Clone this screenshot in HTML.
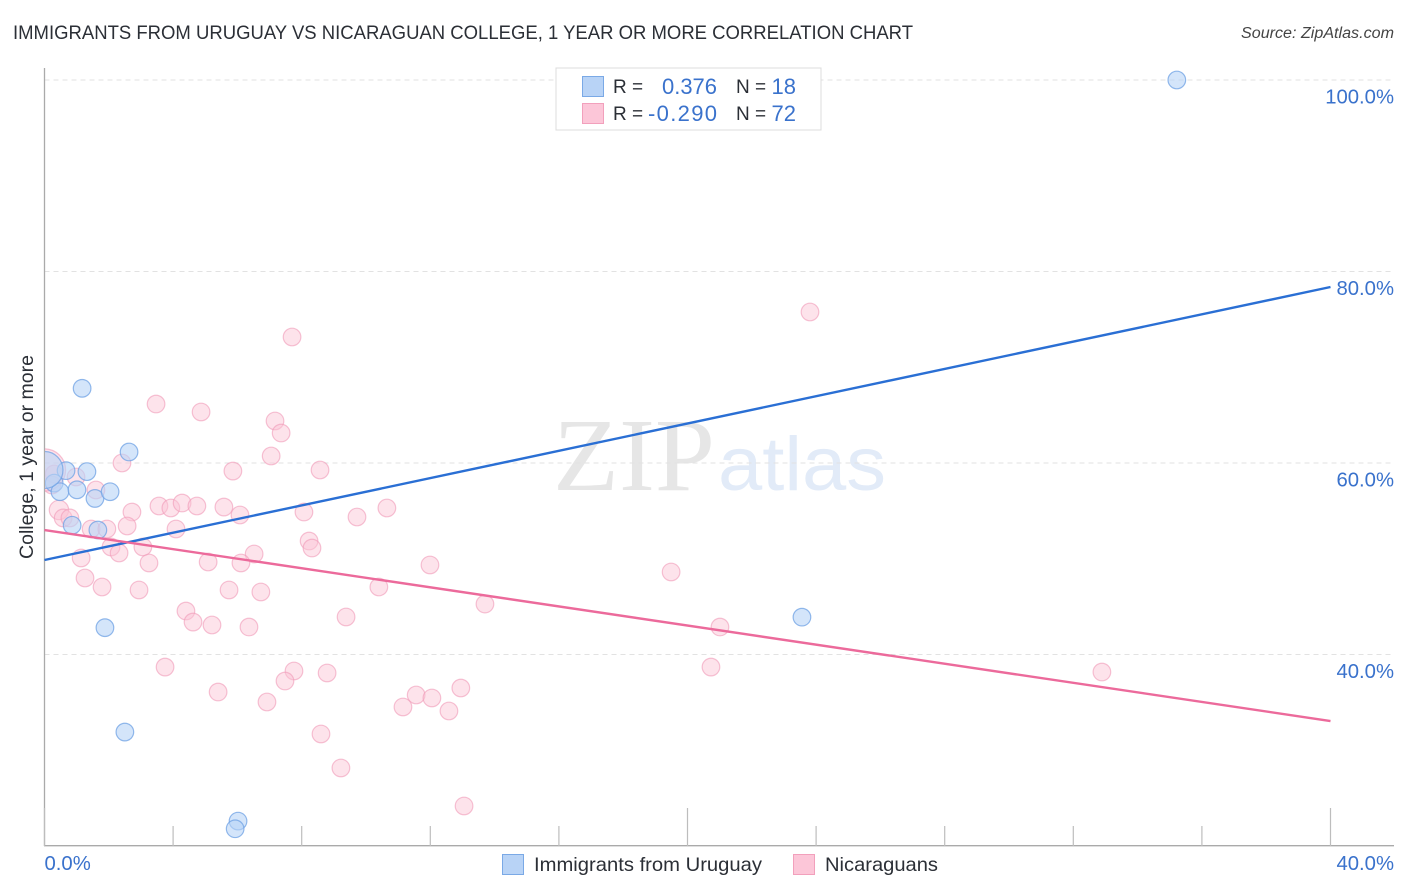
<!DOCTYPE html>
<html lang="en">
<head>
<meta charset="utf-8">
<title>Immigrants from Uruguay vs Nicaraguan College Correlation Chart</title>
<style>
html,body{margin:0;padding:0;background:#fff;width:1406px;height:892px;overflow:hidden}
svg{display:block}
text{font-family:"Liberation Sans",sans-serif}
</style>
</head>
<body>
<svg id="chart" width="1406" height="892" viewBox="0 0 1406 892" xmlns="http://www.w3.org/2000/svg">
  <defs>
    <clipPath id="plot-clip"><rect x="45" y="60" width="1349" height="786"/></clipPath>
  </defs>
  <text x="13" y="39" font-size="19.5" fill="#2b2f36" textLength="900" lengthAdjust="spacingAndGlyphs">IMMIGRANTS FROM URUGUAY VS NICARAGUAN COLLEGE, 1 YEAR OR MORE CORRELATION CHART</text>
  <text x="1241" y="38" font-size="15.5" font-style="italic" fill="#444" textLength="153" lengthAdjust="spacingAndGlyphs">Source: ZipAtlas.com</text>

  <g>
    <text x="553" y="490" font-size="104" fill="#e6e6e6" style="font-family:'Liberation Serif',serif" textLength="162" lengthAdjust="spacingAndGlyphs">ZIP</text>
    <text x="718" y="490" font-size="76" fill="#e2ebf8" textLength="168" lengthAdjust="spacingAndGlyphs">atlas</text>
  </g>

  <g id="grid"></g>
  <g id="axes"></g>
  <g id="pink-points" clip-path="url(#plot-clip)"></g>
  <g id="blue-points" clip-path="url(#plot-clip)"></g>
  <g id="lines"></g>
  <g id="labels"></g>

  <text transform="translate(33,457) rotate(-90)" font-size="19" fill="#2b2f36" text-anchor="middle" textLength="204" lengthAdjust="spacingAndGlyphs">College, 1 year or more</text>

  <g>
    <rect x="556" y="68" width="265" height="62" fill="#fff" stroke="#dcdcdc" stroke-width="1"/>
    <rect x="582.5" y="76.5" width="21" height="20" fill="#b8d3f6" stroke="#7aa9e6"/>
    <rect x="582.5" y="103.5" width="21" height="20" fill="#fcc6d8" stroke="#f2a0bc"/>
    <text x="613" y="93" font-size="19" fill="#2b2f36">R =</text>
    <text x="662" y="94" font-size="22" fill="#3a72cc" textLength="55" lengthAdjust="spacingAndGlyphs">0.376</text>
    <text x="736" y="93" font-size="19" fill="#2b2f36">N =</text>
    <text x="796" y="94" font-size="22" fill="#3a72cc" text-anchor="end">18</text>
    <text x="613" y="120" font-size="19" fill="#2b2f36">R =</text>
    <text x="648" y="121" font-size="22" fill="#3a72cc" textLength="69" lengthAdjust="spacing">-0.290</text>
    <text x="736" y="120" font-size="19" fill="#2b2f36">N =</text>
    <text x="796" y="121" font-size="22" fill="#3a72cc" text-anchor="end">72</text>
  </g>

  <g>
    <rect x="502.5" y="854.5" width="21" height="20" fill="#b8d3f6" stroke="#7aa9e6"/>
    <text x="534" y="871" font-size="19.5" fill="#2b2f36" textLength="228" lengthAdjust="spacingAndGlyphs">Immigrants from Uruguay</text>
    <rect x="793.5" y="854.5" width="21" height="20" fill="#fcc6d8" stroke="#f2a0bc"/>
    <text x="825" y="871" font-size="19.5" fill="#2b2f36" textLength="113" lengthAdjust="spacingAndGlyphs">Nicaraguans</text>
  </g>
</svg>
<script>
const yTicks = [100, 80, 60, 40];
const yTickLabels = ["100.0%", "80.0%", "60.0%", "40.0%"];
const xEndLabels = ["0.0%", "40.0%"];
const xEndValues = [0, 40];
const xTickValues = [0, 4, 8, 12, 16, 20, 24, 28, 32, 36, 40];

const uruguayX = [35.22, 1.17, 2.63, 0.67, 1.32, 0.3, 0.48, 1.01, 1.57, 2.04, 0.86, 1.66, 1.88, 2.5, 23.56, 6.02, 5.93, 0];
const uruguayY = [100, 67.8, 61.15, 59.2, 59.1, 57.9, 57.0, 57.2, 56.3, 57.0, 53.5, 53.0, 42.8, 31.9, 43.9, 22.6, 21.8, 59.27];
const uruguaySize = [1, 1, 1, 1, 1, 1, 1, 1, 1, 1, 1, 1, 1, 1, 1, 1, 1, 2.1];

const nicaraguaX = [23.81, 7.7, 3.47, 4.87, 7.17, 7.36, 7.05, 2.41, 5.86, 8.57, 0.98, 0.3, 0.23, 1.6, 0.45, 0.58, 0.79, 2.72, 3.56, 3.93, 4.28, 4.74, 5.58, 6.08, 8.07, 9.72, 10.65, 2.57, 1.45, 1.94, 4.09, 3.06, 2.07, 2.32, 1.14, 6.52, 3.25, 5.09, 6.11, 8.23, 8.32, 11.99, 1.26, 1.79, 2.94, 5.74, 6.73, 19.49, 10.4, 4.4, 4.62, 5.21, 6.36, 9.38, 13.7, 21.01, 3.75, 7.76, 8.79, 7.48, 5.4, 6.92, 11.56, 12.05, 11.15, 12.58, 12.95, 20.73, 32.89, 8.6, 9.22, 13.05, 0];
const nicaraguaY = [75.77, 73.16, 66.16, 65.33, 64.39, 63.13, 60.73, 60.0, 59.16, 59.27, 58.54, 58.85, 57.7, 57.18, 55.09, 54.26, 54.26, 54.88, 55.51, 55.3, 55.82, 55.51, 55.4, 54.57, 54.88, 54.36, 55.3, 53.42, 53.11, 53.11, 53.11, 51.23, 51.23, 50.6, 50.08, 50.5, 49.56, 49.66, 49.56, 51.85, 51.12, 49.35, 47.99, 47.05, 46.74, 46.74, 46.53, 48.62, 47.05, 44.54, 43.39, 43.08, 42.87, 43.92, 45.27, 42.87, 38.69, 38.28, 38.07, 37.23, 36.08, 35.04, 35.77, 35.46, 34.52, 34.1, 36.5, 38.69, 38.17, 31.7, 28.15, 24.18, 59.27];
const nicaraguaSize = [1, 1, 1, 1, 1, 1, 1, 1, 1, 1, 1, 1, 1, 1, 1.1, 1, 1, 1, 1, 1, 1, 1, 1, 1, 1, 1, 1, 1, 1, 1, 1, 1, 1, 1, 1, 1, 1, 1, 1, 1, 1, 1, 1, 1, 1, 1, 1, 1, 1, 1, 1, 1, 1, 1, 1, 1, 1, 1, 1, 1, 1, 1, 1, 1, 1, 1, 1, 1, 1, 1, 1, 1, 2.4];

const uruguayTrendX = [0, 40];
const uruguayTrendY = [49.87, 78.38];
const nicaraguaTrendX = [0, 40];
const nicaraguaTrendY = [53.0, 33.05];

const NS = "http://www.w3.org/2000/svg";
function xScale(v) { return 44.5 + v * 32.15; }
function yScale(v) { return 80 + (100 - v) * 9.575; }
function make(tag, attrs, parent) {
  const el = document.createElementNS(NS, tag);
  for (const k in attrs) el.setAttribute(k, attrs[k]);
  parent.appendChild(el);
  return el;
}

const grid = document.getElementById("grid");
yTicks.forEach(function (t) {
  const el = make("line", {x1: 44.5, x2: 1394, y1: yScale(t), y2: yScale(t), stroke: "#e2e2e2", "stroke-width": 1, "stroke-dasharray": "5 4"}, grid);
  
  
});

const axes = document.getElementById("axes");
const yAxis = make("line", {x1: 44.5, x2: 44.5, y1: 68, y2: 846, stroke: "#aaaaaa", "stroke-width": 1.3}, axes);


const xAxis = make("line", {x1: 44, x2: 1394, y1: 845.7, y2: 845.7, stroke: "#aaaaaa", "stroke-width": 1.3}, axes);


xTickValues.forEach(function (t, i) {
  const top = (i % 5 === 0) ? 808 : 826;
  const el = make("line", {x1: xScale(t), x2: xScale(t), y1: top, y2: 846, stroke: "#bdbdbd", "stroke-width": 1.2}, axes);
  
  
});

function drawPoints(groupId, xs, ys, sizes, fill, fillOpacity, stroke, strokeOpacity, name) {
  const g = document.getElementById(groupId);
  xs.forEach(function (x, i) {
    const c = make("circle", {cx: xScale(x), cy: yScale(ys[i]), r: 8.8 * sizes[i], fill: fill, "fill-opacity": fillOpacity, stroke: stroke, "stroke-opacity": strokeOpacity, "stroke-width": 1.2}, g);
    
    
  });
}
drawPoints("pink-points", nicaraguaX, nicaraguaY, nicaraguaSize, "#fbc4d6", 0.48, "#f09ab8", 0.6, "nicaraguans-point");
drawPoints("blue-points", uruguayX, uruguayY, uruguaySize, "#b8d3f6", 0.6, "#6fa2e4", 0.75, "uruguay-point");

const lines = document.getElementById("lines");
const blueLine = make("line", {x1: xScale(uruguayTrendX[0]), y1: yScale(uruguayTrendY[0]), x2: xScale(uruguayTrendX[1]), y2: yScale(uruguayTrendY[1]), stroke: "#2a6fd4", "stroke-width": 2.4}, lines);


const pinkLine = make("line", {x1: xScale(nicaraguaTrendX[0]), y1: yScale(nicaraguaTrendY[0]), x2: xScale(nicaraguaTrendX[1]), y2: yScale(nicaraguaTrendY[1]), stroke: "#ec6a9b", "stroke-width": 2.4}, lines);



const labels = document.getElementById("labels");
yTicks.forEach(function (t, i) {
  const el = make("text", {x: 1394, y: yScale(t) + 23.5, "font-size": 20.3, fill: "#3a72cc", "text-anchor": "end"}, labels);
  el.textContent = yTickLabels[i];
  
  
});
xEndValues.forEach(function (t, i) {
  const el = make("text", {x: i === 0 ? xScale(t) : 1394, y: 870, "font-size": 20.3, fill: "#3a72cc", "text-anchor": i === 0 ? "start" : "end"}, labels);
  el.textContent = xEndLabels[i];
  
  
});
</script>
</body>
</html>
